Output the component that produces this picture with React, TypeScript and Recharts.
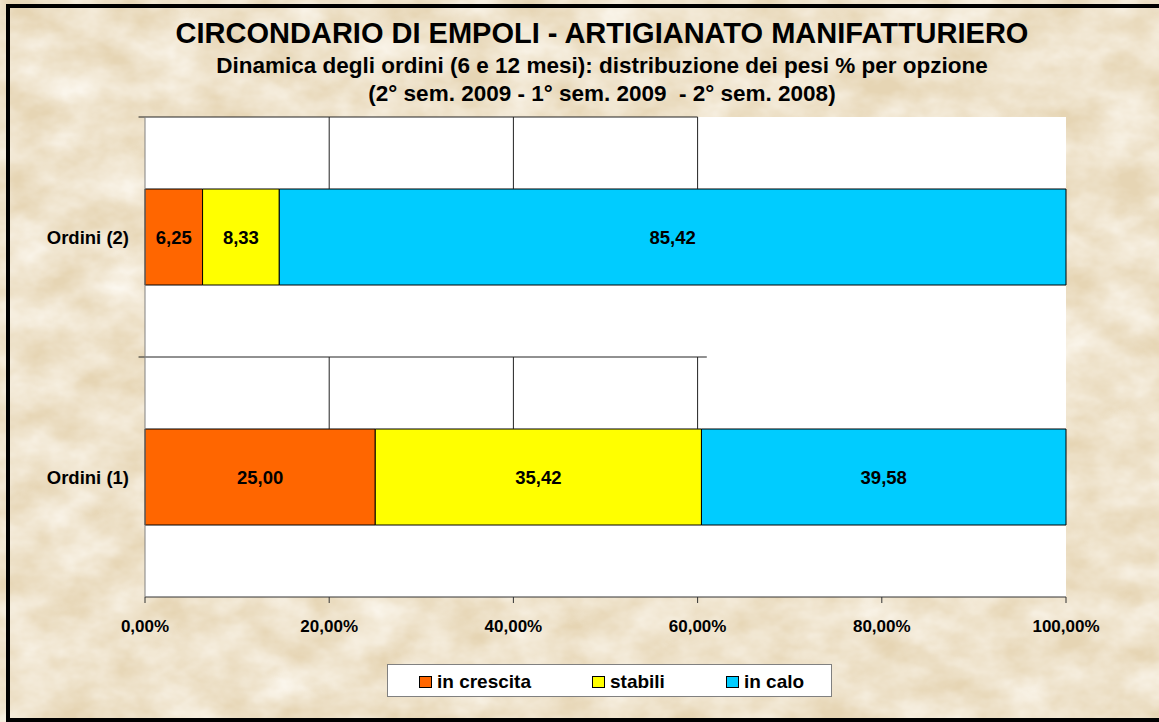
import { BarChart, Bar, XAxis, YAxis, CartesianGrid, LabelList, ReferenceLine } from 'recharts';

const categories = ['Ordini (2)', 'Ordini (1)'];
const inCrescita = [6.25, 25.0];
const stabili = [8.33, 35.42];
const inCalo = [85.42, 39.58];
const xTicks = [0, 20, 40, 60, 80, 100];

const series = [
  { key: 'crescita', name: 'in crescita', color: '#FF6600', values: inCrescita },
  { key: 'stabili',  name: 'stabili',     color: '#FFFF00', values: stabili },
  { key: 'calo',     name: 'in calo',     color: '#00CCFF', values: inCalo },
];

const data = categories.map((name, i) => {
  const row: Record<string, string | number> = { name };
  series.forEach((s) => { row[s.key] = s.values[i]; });
  return row;
});

// Excel left its grid only partly drawn: keep it that way.
// hidden axis runs top-down: 0 = top of plot, 0.5 = between the two bars, 1 = bottom
const gridXs = [20, 40, 60];

const FONT = '"Liberation Sans", Arial, sans-serif';
const fmt = (v: number) => v.toFixed(2).replace('.', ',');

function Paper() {
  return (
    <svg width={1159} height={722} style={{ position: 'absolute', left: 0, top: 0 }}>
      <defs>
        <filter id="paper" x="0" y="0" width="100%" height="100%">
          <feTurbulence type="fractalNoise" baseFrequency="0.02 0.03" numOctaves={4} seed={7} />
          <feColorMatrix type="matrix" values="0 0 0 0 1  0 0 0 0 0.98  0 0 0 0 0.94  0 0 -1.1 0 0.9" />
        </filter>
      </defs>
      <rect width={1159} height={722} fill="#E6D5B4" />
      <rect width={1159} height={722} fill="#fff" filter="url(#paper)" />
    </svg>
  );
}

export default function App() {
  return (
    <div style={{ position: 'absolute', left: 0, top: 0, width: 1159, height: 722, overflow: 'hidden', fontFamily: FONT }}>
      <Paper />
      <div style={{ position: 'absolute', left: 0, top: 0 }}>
        <BarChart
          width={1159}
          height={722}
          data={data}
          layout="vertical"
          margin={{ top: 117, right: 93, bottom: 95, left: 0 }}
          barSize={96}
        >
          <CartesianGrid fill="#fff" horizontal={false} vertical={false} />
          <XAxis
            type="number"
            domain={[0, 100]}
            ticks={xTicks}
            tickFormatter={(v: number) => fmt(v) + '%'}
            height={30}
            stroke="#333"
            tickSize={6}
            tickMargin={17}
            tick={{ fill: '#000', fontSize: 17, fontWeight: 700, fontFamily: FONT }}
          />
          <YAxis
            type="category"
            dataKey="name"
            width={145}
            stroke="#808080"
            tickLine={false}
            tickSize={6}
            tickMargin={10}
            tick={{ fill: '#000', fontSize: 18.5, fontWeight: 700, fontFamily: FONT }}
          />
          <YAxis yAxisId="grid" type="number" domain={[0, 1]} allowDataOverflow hide />
          <ReferenceLine yAxisId="grid" ifOverflow="visible" segment={[{ x: -0.7, y: 0 }, { x: 60, y: 0 }]} stroke="#222" />
          <ReferenceLine yAxisId="grid" ifOverflow="visible" segment={[{ x: -0.7, y: 0.5 }, { x: 61, y: 0.5 }]} stroke="#222" />
          {gridXs.map((x) => (
            <ReferenceLine key={'t' + x} yAxisId="grid" ifOverflow="visible" segment={[{ x, y: 0 }, { x, y: 0.15 }]} stroke="#222" />
          ))}
          {gridXs.map((x) => (
            <ReferenceLine key={'m' + x} yAxisId="grid" ifOverflow="visible" segment={[{ x, y: 0.5 }, { x, y: 0.65 }]} stroke="#222" />
          ))}
          {series.map((s) => (
            <Bar key={s.key} dataKey={s.key} name={s.name} stackId="a" fill={s.color} stroke="#000" strokeWidth={1} isAnimationActive={false}>
              <LabelList
                dataKey={s.key}
                position="center"
                formatter={(v: number) => fmt(v)}
                fill="#000"
                style={{ fontSize: 18.5, fontWeight: 700, fontFamily: FONT }}
              />
            </Bar>
          ))}
        </BarChart>
      </div>

      <svg width={1159} height={130} style={{ position: 'absolute', left: 0, top: 0, pointerEvents: 'none' }}>
        <g fontFamily={FONT} fontWeight={700} fill="#000" textAnchor="middle">
          <text x={602} y={43} fontSize={29}>CIRCONDARIO DI EMPOLI - ARTIGIANATO MANIFATTURIERO</text>
          <text x={602} y={73} fontSize={22.5}>Dinamica degli ordini (6 e 12 mesi): distribuzione dei pesi % per opzione</text>
          <text x={602} y={101} fontSize={22.5} style={{ whiteSpace: 'pre' }}>(2° sem. 2009 - 1° sem. 2009  - 2° sem. 2008)</text>
        </g>
      </svg>

      <div
        style={{
          position: 'absolute', left: 387, top: 664, width: 445, height: 33, boxSizing: 'border-box',
          background: '#fff', border: '1px solid #808080', display: 'flex', alignItems: 'center',
          paddingLeft: 31, paddingTop: 2, gap: 61,
        }}
      >
        {series.map((s) => (
          <div key={s.key} style={{ display: 'flex', alignItems: 'center', gap: 5 }}>
            <span style={{ width: 13, height: 12, boxSizing: 'border-box', background: s.color, border: '1px solid #000', display: 'inline-block' }} />
            <span style={{ fontSize: 19, fontWeight: 700, color: '#000', lineHeight: '20px' }}>{s.name}</span>
          </div>
        ))}
      </div>

      <div style={{ position: 'absolute', left: 6, top: 4, width: 1200, height: 718, boxSizing: 'border-box', border: '4px solid #000' }} />
    </div>
  );
}
